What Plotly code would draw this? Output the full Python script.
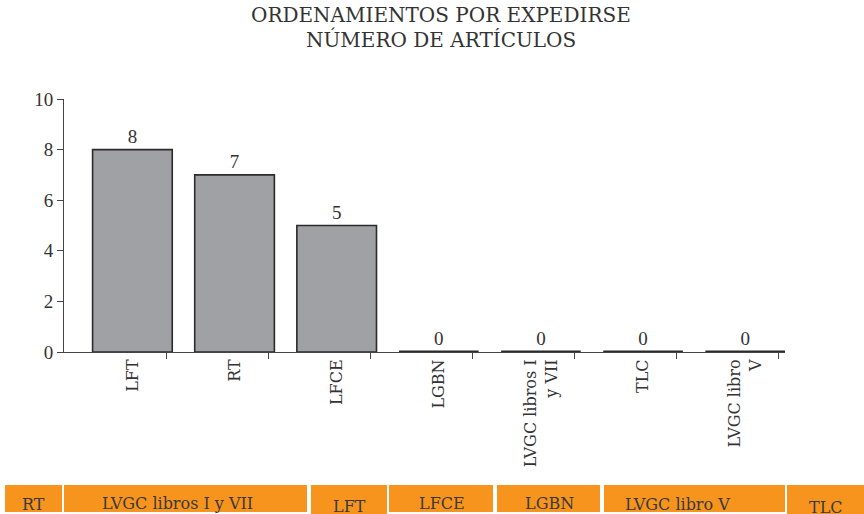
import plotly.graph_objects as go

# ---- data ----
categories = ["LFT", "RT", "LFCE", "LGBN", "LVGC libros I<br>y VII", "TLC", "LVGC libro<br>V"]
values = [8, 7, 5, 0, 0, 0, 0]
y_ticks = [0, 2, 4, 6, 8, 10]
title_lines = ["ORDENAMIENTOS POR EXPEDIRSE", "NÚMERO DE ARTÍCULOS"]
strip_labels = ["RT", "LVGC libros I y VII", "LFT", "LFCE", "LGBN", "LVGC libro V", "TLC"]

W, H = 864, 514
L, R, T, B = 64, 79, 99, 162
PW, PH = W - L - R, H - T - B

def px(x):
    return (x - L) / PW

def py(y):
    return (H - B - y) / PH

SERIF = "DejaVu Serif"
NUMF = "Liberation Serif"
DARK = "#333333"

fig = go.Figure()
fig.add_trace(go.Bar(
    x=list(range(len(categories))), y=values,
    marker=dict(color="#A0A1A5",
                line=dict(color="#2b2b2b", width=[1.6 if v > 0 else 3 for v in values])),
    text=[str(v) for v in values], textposition="outside",
    textfont=dict(family=NUMF, size=19, color=DARK),
    cliponaxis=False, width=0.78,
))
fig.add_trace(go.Scatter(x=[None], y=[None], xaxis="x2", showlegend=False))

xr = [-0.67, 6.39]
fig.update_layout(
    width=W, height=H,
    margin=dict(l=L, r=R, t=T, b=B),
    paper_bgcolor="white", plot_bgcolor="white",
    showlegend=False,
    font=dict(family=SERIF, color=DARK),
    xaxis=dict(
        range=xr, tickmode="array", tickvals=list(range(len(categories))),
        ticktext=categories, tickangle=-90, ticks="", showgrid=False,
        showline=True, linecolor="#444444", linewidth=1, zeroline=False,
        tickfont=dict(family=SERIF, size=16, color=DARK),
    ),
    xaxis2=dict(
        range=xr, overlaying="x", anchor="y", side="bottom",
        tickmode="array", tickvals=[i + 0.33 for i in range(len(categories))],
        showticklabels=False, ticks="outside", ticklen=6, tickwidth=1,
        tickcolor="#444444", showgrid=False, showline=False, zeroline=False,
    ),
    yaxis=dict(
        range=[0, 10], tickmode="array", tickvals=y_ticks,
        ticks="outside", ticklen=6, tickwidth=1, tickcolor="#444444",
        showline=True, linecolor="#444444", linewidth=1, showgrid=False,
        zeroline=False, tickfont=dict(family=NUMF, size=19, color=DARK),
    ),
)

# title as two centered lines
for line, ty in zip(title_lines, [15, 39]):
    fig.add_annotation(xref="paper", yref="paper", x=px(441), y=py(ty),
                       text=line, showarrow=False, xanchor="center", yanchor="middle",
                       font=dict(family=SERIF, size=20, color=DARK))

# orange strip at the bottom
boxes = [(5, 62), (64, 307), (311, 387), (389, 493), (497, 600), (604, 785), (787, 864)]
text_x = [33, 177, 349, 442, 549, 677, 826]
text_y = [504, 503, 506, 503, 503, 504, 507]
bottoms = [512, 512, 516, 512, 512, 512, 516]
for (x0, x1), lab, tx, ty, bt in zip(boxes, strip_labels, text_x, text_y, bottoms):
    fig.add_shape(type="rect", xref="paper", yref="paper",
                  x0=px(x0), x1=px(x1), y0=py(bt), y1=py(485),
                  fillcolor="#F7941E", line=dict(width=0), layer="above")
    fig.add_annotation(xref="paper", yref="paper", x=px(tx), y=py(ty),
                       text=lab, showarrow=False, xanchor="center", yanchor="middle",
                       font=dict(family=SERIF, size=16, color="#3a3a3a"))

fig.write_html("out.html", config={"displayModeBar": False},
               post_script="document.body.style.margin='0px';")
